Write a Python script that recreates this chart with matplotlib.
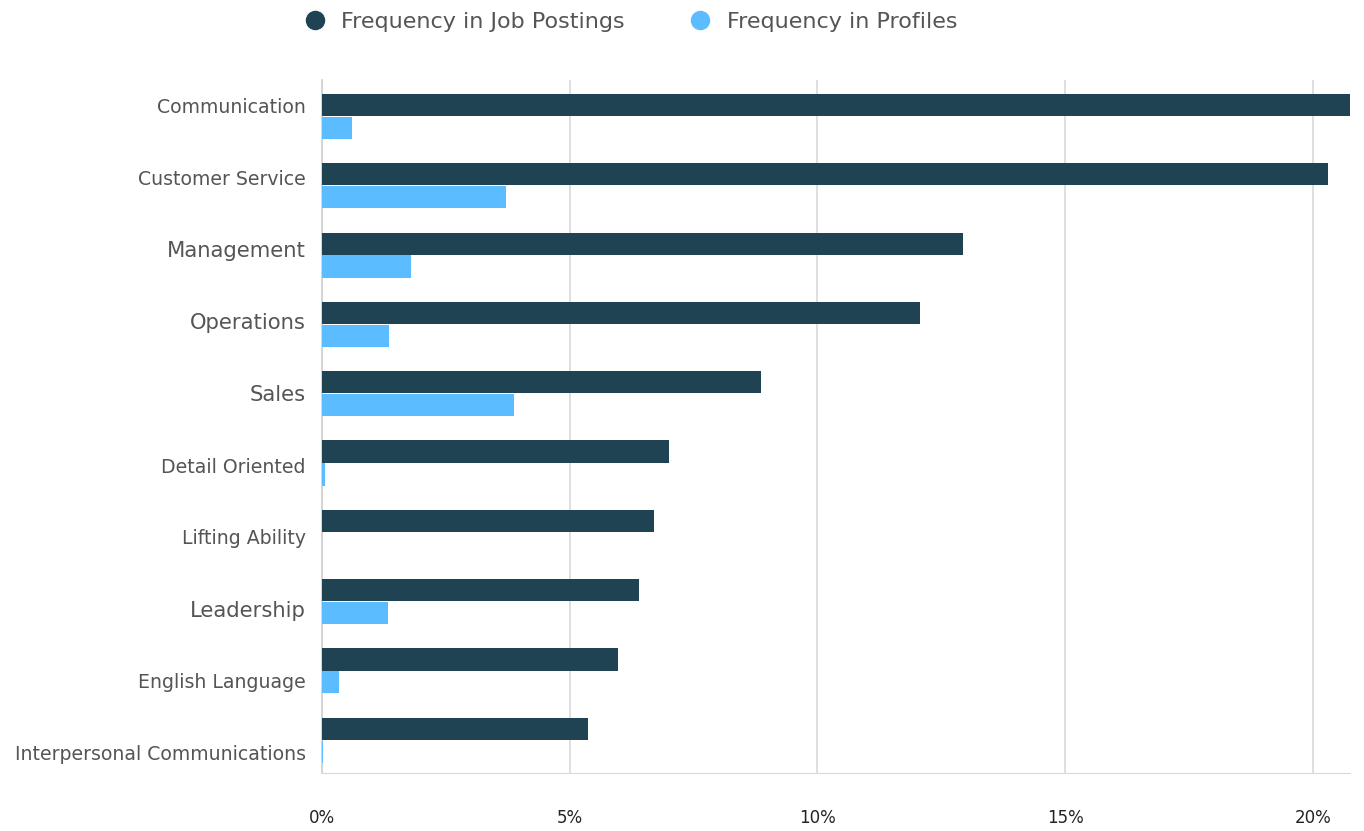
import matplotlib
matplotlib.use("Agg")
import matplotlib.pyplot as plt
from matplotlib.lines import Line2D
from matplotlib.ticker import FuncFormatter
import numpy as np

plt.rcParams['font.family'] = ['DejaVu Sans']

skills = ["Communication", "Customer Service", "Management", "Operations", "Sales",
          "Detail Oriented", "Lifting Ability", "Leadership", "English Language",
          "Interpersonal Communications"]
job_postings = [20.74, 20.30, 12.94, 12.07, 8.86, 7.00, 6.70, 6.40, 5.97, 5.37]
profiles = [0.61, 3.71, 1.80, 1.35, 3.87, 0.06, 0.0, 1.33, 0.34, 0.03]
xticks = [0, 5, 10, 15, 20]

dark = "#204354"
light = "#5bbcff"
text_gray = "#555555"

fig = plt.figure(figsize=(13.64, 8.31), dpi=100)
ax = fig.add_axes([322/1364, 1-773/831, (1350-322)/1364, (773-80)/831])

y = np.arange(len(skills))
h = 0.32
ax.barh(y - h/2 + 0.022, job_postings, height=h, color=dark, zorder=3)
ax.barh(y + h/2 + 0.032, profiles, height=h, color=light, zorder=3)

ax.set_xlim(0, 20.75)
ax.set_ylim(len(skills) - 0.5, -0.5)
ax.set_xticks(xticks)
ax.xaxis.set_major_formatter(FuncFormatter(lambda v, p: f"{v:g}%"))
ax.grid(axis='x', color='#d9d9d9', linewidth=1.2, zorder=0)
ax.set_yticks([])
ax.tick_params(axis='x', length=0, pad=26, labelsize=12, labelcolor='#222222')
for s in ['top', 'right']:
    ax.spines[s].set_visible(False)
ax.spines['left'].set_color('#d0d0d0')
ax.spines['bottom'].set_color('#d9d9d9')
ax.spines['left'].set_linewidth(1.2)

large = {"Management", "Operations", "Sales", "Leadership"}
label_y = np.linspace(1 - (107-80)/693, 1 - (755-80)/693, len(skills))
for name, ly in zip(skills, label_y):
    ax.text(-0.016, ly, name, transform=ax.transAxes, ha='right', va='center',
            fontsize=15.2 if name in large else 13.6, color=text_gray)

handles = [Line2D([], [], marker='o', linestyle='', color=dark, markersize=13),
           Line2D([], [], marker='o', linestyle='', color=light, markersize=13)]
fig.legend(handles, ["Frequency in Job Postings", "Frequency in Profiles"],
           loc='center', bbox_to_anchor=(625/1364, 1-22/831), ncol=2, frameon=False,
           fontsize=16, labelcolor=text_gray, handletextpad=0.2, columnspacing=2.4)

fig.savefig("out.png", dpi=100)
